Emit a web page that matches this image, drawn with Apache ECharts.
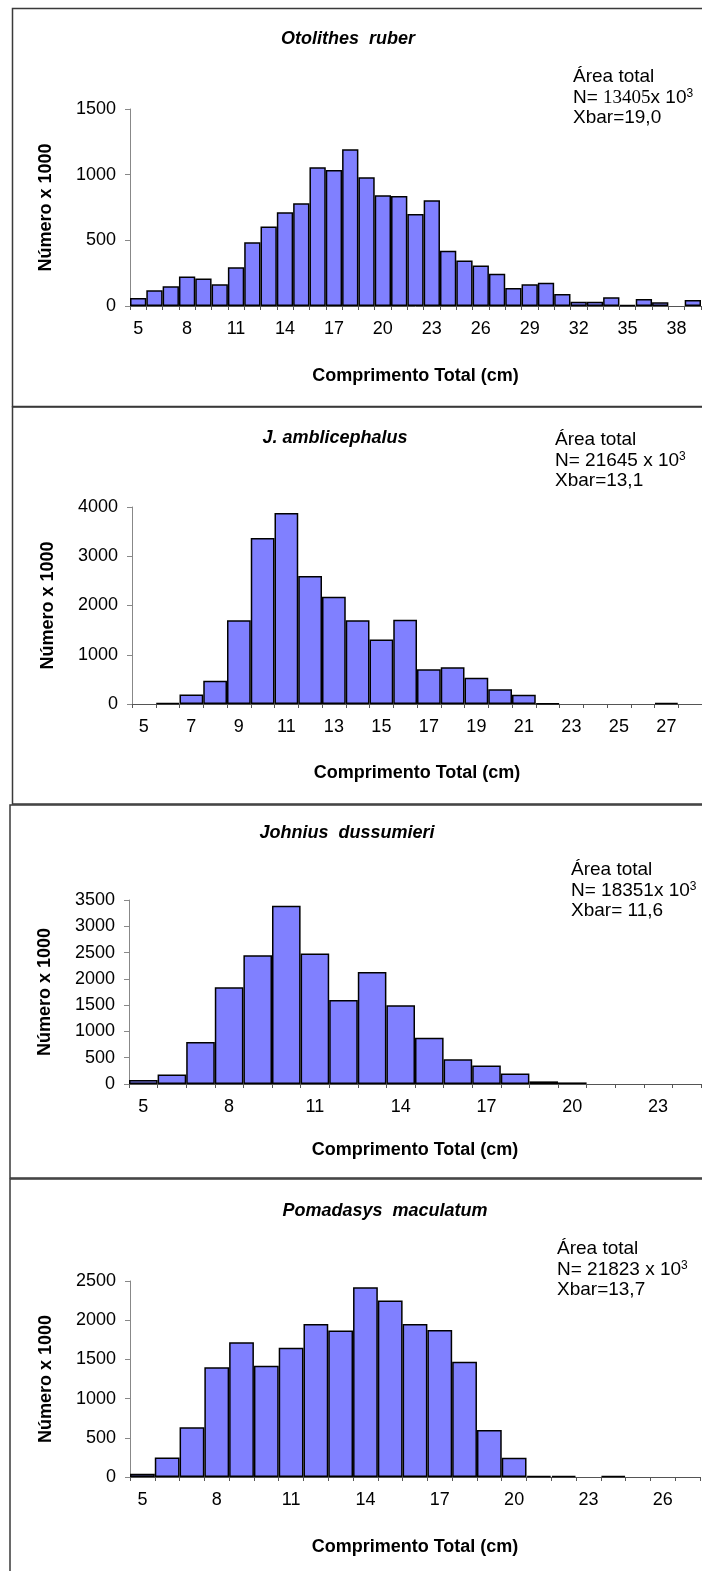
<!DOCTYPE html>
<html>
<head>
<meta charset="utf-8">
<script src="https://cdn.jsdelivr.net/npm/echarts@6/dist/echarts.min.js"></script>
<style>
html,body{margin:0;padding:0;background:#fff;overflow:hidden;}
#c{width:702px;height:1571px;}
</style>
</head>
<body>
<div id="c"></div>
<script>
// ---- Data ----
const otoCats = ['5','6','7','8','9','10','11','12','13','14','15','16','17','18','19','20','21','22','23','24','25','26','27','28','29','30','31','32','33','34','35','36','37','38','39'];
const otoVals = [60,120,150,225,210,165,295,485,605,714,782,1056,1036,1193,980,843,838,701,805,420,347,309,246,137,165,177,91,33,33,66,8,53,28,0,46];

const jamCats = ['5','6','7','8','9','10','11','12','13','14','15','16','17','18','19','20','21','22','23','24','25','26','27','28'];
const jamVals = [0,20,195,470,1700,3370,3880,2600,2180,1700,1310,1710,705,745,535,300,190,15,0,0,0,0,20,0];

const johCats = ['5','6','7','8','9','10','11','12','13','14','15','16','17','18','19','20','21','22','23','24'];
const johVals = [75,180,800,1840,2450,3390,2480,1600,2130,1500,880,470,350,200,50,30,0,0,0,0];

const pomCats = ['5','6','7','8','9','10','11','12','13','14','15','16','17','18','19','20','21','22','23','24','25','26','27'];
const pomVals = [40,250,635,1400,1720,1420,1650,1950,1870,2420,2250,1950,1875,1470,600,245,15,15,0,15,0,0,0];

const titles = ['Otolithes  ruber','J. amblicephalus','Johnius  dussumieri','Pomadasys  maculatum'];
const nTexts = ['13405','21645 ','18351','21823 '];
const xbarTexts = ['Xbar=19,0','Xbar=13,1','Xbar= 11,6','Xbar=13,7'];
const yMax = [1500, 4000, 3500, 2500];
const yInterval = [500, 1000, 500, 500];
const labelEvery = [2, 1, 2, 2];
const xName = 'Comprimento Total (cm)';
const yName = 'Número x 1000';

// ---- Layout ----
const FONT = 'Arial, "Liberation Sans", sans-serif';
const panels = [
  {cats: otoCats, vals: otoVals, grid:{left:130, top:109, width:571, height:197}, xGap:61,
   title:[348,39], ann:[573,77], frame:[12.5,8.5,740,398]},
  {cats: jamCats, vals: jamVals, grid:{left:132, top:507, width:570, height:197}, xGap:60,
   title:[335,438], ann:[555,440], frame:[12.5,407,740,397]},
  {cats: johCats, vals: johVals, grid:{left:129, top:900, width:572, height:184}, xGap:57,
   title:[347,833], ann:[571,870], frame:[10,805,740,373]},
  {cats: pomCats, vals: pomVals, grid:{left:130, top:1281, width:570, height:196}, xGap:61,
   title:[385,1211], ann:[557,1249], frame:[10,1179,740,420]}
];

const grids=[], xAxes=[], yAxes=[], series=[], graphics=[];
panels.forEach((p,i)=>{
  grids.push(Object.assign({containLabel:false}, p.grid));
  xAxes.push({
    type:'category', gridIndex:i, data:p.cats, boundaryGap:true,
    name:xName, nameLocation:'middle', nameGap:p.xGap,
    nameTextStyle:{fontFamily:FONT, fontWeight:'bold', fontSize:18, color:'#000'},
    axisLine:{lineStyle:{color:'#555', width:1}},
    axisTick:{show:true, interval:0, alignWithLabel:false, length:4, lineStyle:{color:'#555'}},
    axisLabel:{interval:labelEvery[i], fontFamily:FONT, fontSize:18, color:'#000', margin:14},
    splitLine:{show:false}
  });
  yAxes.push({
    type:'value', gridIndex:i, min:0, max:yMax[i], interval:yInterval[i],
    name:yName, nameLocation:'middle', nameGap:75, nameRotate:90,
    nameTextStyle:{fontFamily:FONT, fontWeight:'bold', fontSize:18, color:'#000'},
    axisLine:{show:true, lineStyle:{color:'#888', width:1}},
    axisTick:{show:true, length:5, lineStyle:{color:'#888'}},
    axisLabel:{fontFamily:FONT, fontSize:18, color:'#000', margin:14, formatter:(v)=>String(v)},
    splitLine:{show:false}
  });
  series.push({
    type:'bar', xAxisIndex:i, yAxisIndex:i,
    data:p.vals.map(v=> v===0 ? '-' : v),
    barCategoryGap:'0%', barWidth:'100%',
    itemStyle:{color:'#8080FF', borderColor:'#000', borderWidth:1.5},
    silent:true, animation:false
  });
  // frame
  graphics.push({type:'rect', shape:{x:p.frame[0], y:p.frame[1], width:p.frame[2], height:p.frame[3]},
    style:{fill:null, stroke:'#3a3a3a', lineWidth:1.5}, silent:true, z:-1});
  // title
  graphics.push({type:'text', x:p.title[0], y:p.title[1],
    style:{text:titles[i], fontFamily:FONT, fontSize:18, fontWeight:'bold', fontStyle:'italic',
      fill:'#000', align:'center', verticalAlign:'middle'}});
  // annotation
  graphics.push({type:'text', x:p.ann[0], y:p.ann[1],
    style:{text:'Área total', fontFamily:FONT, fontSize:19, fill:'#000', align:'left', verticalAlign:'middle'}});
  const nStr = i===0 ? 'N= {s|'+nTexts[i]+'}x 10{sup|3}' : 'N= '+nTexts[i]+'x 10{sup|3}';
  graphics.push({type:'text', x:p.ann[0], y:p.ann[1]+21,
    style:{text:nStr, fontFamily:FONT, fontSize:19, fill:'#000', align:'left', verticalAlign:'middle',
      rich:{
        s:{fontFamily:'"Liberation Serif","Times New Roman",serif', fontSize:19, fill:'#000'},
        sup:{fontFamily:FONT, fontSize:12, fill:'#000', verticalAlign:'top', padding:[0,0,9,0]}
      }}});
  graphics.push({type:'text', x:p.ann[0], y:p.ann[1]+41,
    style:{text:xbarTexts[i], fontFamily:FONT, fontSize:19, fill:'#000', align:'left', verticalAlign:'middle'}});
});

const chart = echarts.init(document.getElementById('c'), null, {renderer:'canvas'});
chart.setOption({
  backgroundColor:'#fff',
  animation:false,
  grid:grids, xAxis:xAxes, yAxis:yAxes, series:series,
  graphic:graphics
});
</script>
</body>
</html>
